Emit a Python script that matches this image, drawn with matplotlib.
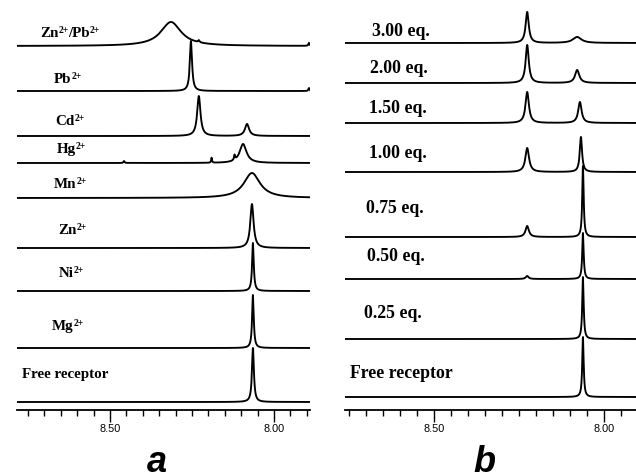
import numpy as np
import matplotlib
matplotlib.use("Agg")
import matplotlib.pyplot as plt
from matplotlib.ticker import MultipleLocator, FormatStrFormatter

# panel a: metal screening. peaks as (ppm, height in px, FWHM in ppm)
# labels are split into (text, is_superscript) pieces
labels_a = [
    [("Zn", False), ("2+", True), ("/Pb", False), ("2+", True)],
    [("Pb", False), ("2+", True)],
    [("Cd", False), ("2+", True)],
    [("Hg", False), ("2+", True)],
    [("Mn", False), ("2+", True)],
    [("Zn", False), ("2+", True)],
    [("Ni", False), ("2+", True)],
    [("Mg", False), ("2+", True)],
    [("Free receptor", False)],
]
peaks_a = [
    [(8.314, 24, 0.075), (8.229, 2, 0.005), (7.893, 3, 0.004)],
    [(8.253, 50, 0.008), (7.893, 3, 0.004)],
    [(8.229, 40, 0.012), (8.082, 12, 0.015)],
    [(8.094, 19, 0.025), (8.19, 5, 0.003), (8.12, 5, 0.004), (8.457, 2, 0.004)],
    [(8.067, 25, 0.06)],
    [(8.067, 44, 0.012)],
    [(8.064, 48, 0.006)],
    [(8.064, 53, 0.006)],
    [(8.064, 54, 0.007)],
]

# panel b: titration with Pb2+
labels_b = ["3.00 eq.", "2.00 eq.", "1.50 eq.", "1.00 eq.", "0.75 eq.",
            "0.50 eq.", "0.25 eq.", "Free receptor"]
peaks_b = [
    [(8.226, 31, 0.011), (8.079, 6, 0.03)],
    [(8.226, 38, 0.011), (8.079, 13, 0.015)],
    [(8.226, 31, 0.012), (8.071, 21, 0.012)],
    [(8.226, 24, 0.013), (8.068, 35, 0.008)],
    [(8.226, 11, 0.012), (8.062, 71, 0.005)],
    [(8.226, 3, 0.01), (8.062, 46, 0.005)],
    [(8.062, 62, 0.005)],
    [(8.062, 60, 0.005)],
]

# layout (pixels from top of figure)
W, H = 636, 476
AXIS_Y = 410
base_a = [46, 91, 136, 163, 198, 248, 291, 348, 402]
base_b = [43, 83, 123, 172, 237, 279, 339, 397]
label_pos_a = [(40, 32), (54, 78), (55, 120), (57, 148), (54, 183), (58, 229), (59, 272), (52, 325), (22, 373)]
label_pos_b = [(372, 30), (370, 67), (369, 107), (369, 152), (366, 207), (367, 255), (364, 312), (350, 372)]


def spectrum(x, peaks):
    y = np.zeros_like(x)
    for x0, h, w in peaks:
        y += h / (1 + ((x - x0) / (w / 2)) ** 2)
    return y


def put_label(fig, renderer, pieces, lx, ly, size):
    x = lx
    base = ly + 0.33 * size * 1.389
    for txt, sup in pieces:
        fs = size * 0.64 if sup else size
        y = base - (0.24 * size * 1.389 if sup else 0)
        t = fig.text(x / W, 1 - y / H, txt, fontsize=fs, fontweight="bold",
                     family="Liberation Serif", va="baseline", ha="left")
        x += t.get_window_extent(renderer).width


def draw_panel(fig, left_px, right_px, xlim, peaks, bases):
    ax = fig.add_axes([left_px / W, 1 - AXIS_Y / H, (right_px - left_px) / W, AXIS_Y / H])
    x = np.linspace(xlim[1], xlim[0], 6000)
    for pk, base in zip(peaks, bases):
        ax.plot(x, base - spectrum(x, pk), color="black", lw=1.35)
    ax.set_xlim(*xlim)
    ax.set_ylim(AXIS_Y, 0)
    for s in ["top", "left", "right"]:
        ax.spines[s].set_visible(False)
    ax.spines["bottom"].set_linewidth(1.3)
    ax.set_yticks([])
    ax.xaxis.set_major_locator(MultipleLocator(0.5))
    ax.xaxis.set_minor_locator(MultipleLocator(0.05))
    ax.xaxis.set_major_formatter(FormatStrFormatter("%.2f"))
    ax.tick_params(axis="x", which="major", direction="out", length=8.5, width=1.0, pad=1.5,
                   labelsize=7.8, labelfontfamily="Liberation Sans")
    ax.tick_params(axis="x", which="minor", direction="out", length=4.5, width=1.0)
    return ax


fig = plt.figure(figsize=(W / 100, H / 100), dpi=100)
renderer = fig.canvas.get_renderer()
# ppm -> px mapping
draw_panel(fig, 17, 310, (8.7835, 7.890), peaks_a, base_a)
draw_panel(fig, 345, 636, (8.762, 7.906), peaks_b, base_b)

for pieces, (lx, ly) in zip(labels_a, label_pos_a):
    put_label(fig, renderer, pieces, lx, ly, 10.8)
for lab, (lx, ly) in zip(labels_b, label_pos_b):
    put_label(fig, renderer, [(lab, False)], lx, ly, 12.8)

fig.text(157 / W, 1 - 472 / H, "a", fontsize=26, fontweight="bold", style="italic",
         family="Liberation Sans", ha="center", va="baseline")
fig.text(484 / W, 1 - 472 / H, "b", fontsize=26, fontweight="bold", style="italic",
         family="Liberation Sans", ha="center", va="baseline")

fig.savefig("out.png", dpi=100)
